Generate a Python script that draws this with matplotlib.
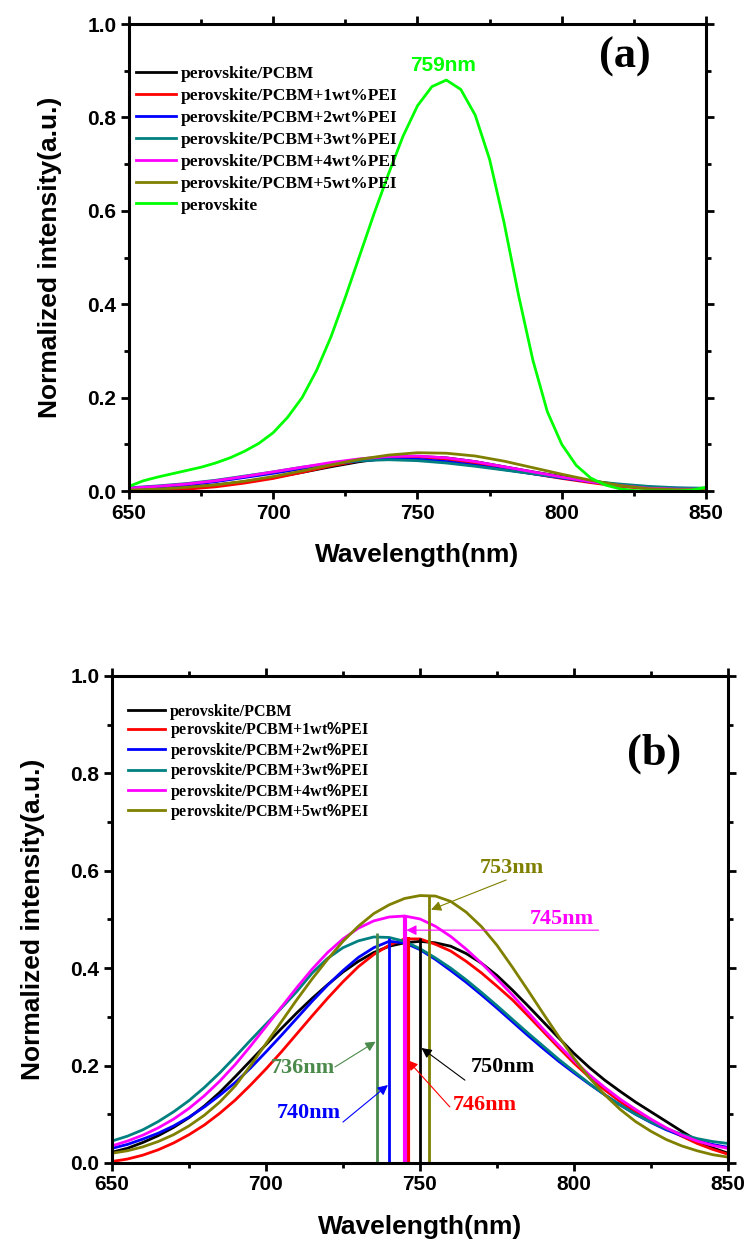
import matplotlib
matplotlib.use('Agg')
import matplotlib.pyplot as plt
from matplotlib.ticker import MultipleLocator

plt.rcParams['mathtext.fontset'] = 'custom'
plt.rcParams['mathtext.bf'] = 'Liberation Sans:bold'

# ---- data ----
labels = ['perovskite/PCBM', 'perovskite/PCBM+1wt%PEI', 'perovskite/PCBM+2wt%PEI',
          'perovskite/PCBM+3wt%PEI', 'perovskite/PCBM+4wt%PEI', 'perovskite/PCBM+5wt%PEI']
colors = ['#000000', '#ff0000', '#0000ff', '#008080', '#ff00ff', '#808000']

# panel (a): 10 nm grid for the quenched films, 5 nm grid for bare perovskite
wl_a = list(range(650, 851, 10))
a_black = [0.003, 0.005, 0.008, 0.013, 0.020, 0.029, 0.040, 0.052, 0.063, 0.071, 0.074,
           0.071, 0.063, 0.052, 0.041, 0.031, 0.022, 0.013, 0.006, 0.003, 0.003]
a_red = [0.000, 0.001, 0.004, 0.009, 0.017, 0.027, 0.040, 0.054, 0.065, 0.072, 0.073,
         0.068, 0.059, 0.048, 0.037, 0.027, 0.018, 0.010, 0.005, 0.003, 0.003]
a_blue = [0.004, 0.008, 0.013, 0.020, 0.029, 0.038, 0.048, 0.058, 0.065, 0.069, 0.068,
          0.063, 0.055, 0.046, 0.037, 0.028, 0.020, 0.013, 0.008, 0.006, 0.005]
a_teal = [0.007, 0.011, 0.016, 0.023, 0.032, 0.041, 0.051, 0.059, 0.065, 0.067, 0.065,
          0.060, 0.053, 0.045, 0.037, 0.029, 0.021, 0.015, 0.010, 0.007, 0.006]
a_magenta = [0.006, 0.010, 0.015, 0.022, 0.031, 0.041, 0.051, 0.061, 0.069, 0.074, 0.075,
             0.071, 0.063, 0.052, 0.041, 0.030, 0.020, 0.012, 0.006, 0.004, 0.004]
a_olive = [0.002, 0.004, 0.008, 0.013, 0.021, 0.031, 0.043, 0.056, 0.068, 0.077, 0.082,
           0.081, 0.075, 0.064, 0.050, 0.036, 0.023, 0.012, 0.005, 0.003, 0.003]

wl_g = list(range(650, 851, 5))
a_green = [0.010, 0.022, 0.030, 0.037, 0.044, 0.051, 0.060, 0.071, 0.085, 0.102,
           0.125, 0.158, 0.200, 0.258, 0.330, 0.415, 0.505, 0.595, 0.680, 0.760,
           0.825, 0.866, 0.880, 0.860, 0.805, 0.710, 0.575, 0.420, 0.280, 0.170,
           0.100, 0.055, 0.028, 0.013, 0.005, 0.001, 0.000, 0.000, 0.000, 0.002, 0.008]

# panel (b): 5 nm grid
wl_b = list(range(650, 851, 5))
b_black = [0.022, 0.030, 0.042, 0.056, 0.073, 0.093, 0.117, 0.145, 0.177, 0.210,
           0.243, 0.276, 0.308, 0.338, 0.366, 0.392, 0.414, 0.432, 0.445, 0.452,
           0.455, 0.452, 0.445, 0.430, 0.410, 0.385, 0.355, 0.323, 0.290, 0.257,
           0.225, 0.196, 0.170, 0.147, 0.125, 0.105, 0.085, 0.065, 0.046, 0.031, 0.020]
b_red = [0.003, 0.008, 0.016, 0.027, 0.041, 0.058, 0.078, 0.102, 0.129, 0.160,
         0.193, 0.228, 0.265, 0.302, 0.338, 0.372, 0.403, 0.428, 0.447, 0.460,
         0.460, 0.449, 0.435, 0.414, 0.390, 0.363, 0.335, 0.303, 0.270, 0.237,
         0.205, 0.176, 0.150, 0.126, 0.105, 0.087, 0.070, 0.055, 0.040, 0.028, 0.018]
b_blue = [0.030, 0.038, 0.049, 0.061, 0.076, 0.094, 0.115, 0.139, 0.165, 0.195,
          0.228, 0.262, 0.297, 0.332, 0.365, 0.395, 0.422, 0.442, 0.455, 0.452,
          0.438, 0.418, 0.395, 0.371, 0.345, 0.318, 0.290, 0.262, 0.235, 0.209,
          0.185, 0.162, 0.140, 0.119, 0.100, 0.083, 0.068, 0.056, 0.046, 0.038, 0.032]
b_teal = [0.045, 0.055, 0.068, 0.085, 0.105, 0.128, 0.155, 0.185, 0.218, 0.252,
          0.285, 0.318, 0.352, 0.390, 0.420, 0.442, 0.456, 0.464, 0.463, 0.455,
          0.440, 0.421, 0.400, 0.376, 0.350, 0.323, 0.295, 0.267, 0.240, 0.213,
          0.188, 0.163, 0.140, 0.119, 0.100, 0.084, 0.070, 0.059, 0.050, 0.044, 0.040]
b_magenta = [0.035, 0.045, 0.057, 0.072, 0.090, 0.112, 0.138, 0.168, 0.202, 0.240,
             0.280, 0.320, 0.360, 0.398, 0.432, 0.460, 0.482, 0.497, 0.505, 0.507,
             0.501, 0.486, 0.465, 0.439, 0.410, 0.378, 0.345, 0.310, 0.275, 0.242,
             0.210, 0.181, 0.155, 0.131, 0.110, 0.090, 0.072, 0.057, 0.045, 0.036, 0.030]
b_olive = [0.020, 0.025, 0.033, 0.044, 0.058, 0.076, 0.098, 0.125, 0.158, 0.200,
           0.245, 0.290, 0.335, 0.378, 0.418, 0.455, 0.486, 0.512, 0.530, 0.543,
           0.549, 0.548, 0.537, 0.515, 0.485, 0.447, 0.402, 0.355, 0.307, 0.260,
           0.215, 0.175, 0.140, 0.110, 0.085, 0.065, 0.048, 0.035, 0.025, 0.017, 0.012]

# peak markers in panel (b)
peak_nm = [750, 746, 740, 736, 745, 753]
peak_top = [0.462, 0.463, 0.462, 0.472, 0.508, 0.550]
peak_colors = ['#000000', '#ff0000', '#0000ff', '#4a8a4a', '#ff00ff', '#808000']
peak_lw = [2.0, 3.0, 2.0, 2.0, 3.0, 2.0]
# label text position, arrow tail, arrow head
peak_text = [(777, 0.197), (771, 0.119), (714, 0.103), (712, 0.195), (796, 0.501), (780, 0.605)]
peak_tail = [(764.6, 0.170), (759.7, 0.115), (725, 0.084), (722.4, 0.197), (808, 0.478), (778, 0.581)]
peak_head = [(750.5, 0.236), (746.0, 0.211), (739.6, 0.160), (735.6, 0.249), (745.6, 0.478), (753.6, 0.520)]

sans = ['Liberation Sans', 'DejaVu Sans']
serif = ['Liberation Serif', 'DejaVu Serif']

fig = plt.figure(figsize=(7.46, 12.45), dpi=100)
ax_a = fig.add_axes([0.1729, 0.6056, 0.7735, 0.3751])
ax_b = fig.add_axes([0.1501, 0.0659, 0.8257, 0.3912])


def style_axes(ax):
    ax.set_xlim(650, 850)
    ax.set_ylim(0, 1.0)
    ax.xaxis.set_major_locator(MultipleLocator(50))
    ax.xaxis.set_minor_locator(MultipleLocator(25))
    ax.yaxis.set_major_locator(MultipleLocator(0.2))
    ax.yaxis.set_minor_locator(MultipleLocator(0.1))
    ax.tick_params(which='both', direction='out', width=2.0, right=True,
                   labelright=False)
    ax.tick_params(which='major', length=6, labelsize=15, pad=3)
    ax.tick_params(which='minor', length=3.5)
    ax.tick_params(axis='x', which='both', top=True, labeltop=False)
    for sp in ax.spines.values():
        sp.set_linewidth(2.2)
    for lab in ax.get_xticklabels() + ax.get_yticklabels():
        lab.set_family(sans)
        lab.set_fontweight('bold')
    ax.set_xlabel('Wavelength(nm)', family=sans, fontweight='bold', fontsize=19, labelpad=15)
    ax.set_ylabel('Normalized intensity(a.u.)', family=sans, fontweight='bold', fontsize=19,
                  labelpad=18)


# ---- panel (a) ----
series_a = [a_black, a_red, a_blue, a_teal, a_magenta, a_olive]
for vals, c, lab in zip(series_a, colors, labels):
    ax_a.plot(wl_a, vals, color=c, lw=2.0, label=lab)
ax_a.plot(wl_g, a_green, color='#00ff00', lw=2.0, label='perovskite')
style_axes(ax_a)
ax_a.text(759, 0.912, '759nm', color='#00ff00', family=sans, fontweight='bold',
          fontsize=15, ha='center', va='center')
ax_a.text(0.86, 0.93, '(a)', transform=ax_a.transAxes, family=serif, fontweight='bold',
          fontsize=32, ha='center', va='center')
ax_a.legend(loc='upper left', bbox_to_anchor=(0.012, 0.911), frameon=False,
            prop={'family': serif, 'weight': 'bold', 'size': 12.5},
            handlelength=2.3, handletextpad=0.3, labelspacing=0.335,
            borderaxespad=0, borderpad=0)

# ---- panel (b) ----
labels_b = [s.replace('%', r'$\mathbf{\%}$') for s in labels]
series_b = [b_black, b_red, b_blue, b_teal, b_magenta, b_olive]
for vals, c, lab in zip(series_b, colors, labels_b):
    ax_b.plot(wl_b, vals, color=c, lw=2.0, label=lab)
for nm, top, c, lw in zip(peak_nm, peak_top, peak_colors, peak_lw):
    ax_b.vlines(nm, 0, top, color=c, lw=lw)
for nm, c, txt, tail, head in zip(peak_nm, peak_colors, peak_text, peak_tail, peak_head):
    ax_b.annotate('', xy=head, xytext=tail,
                  arrowprops=dict(arrowstyle='-|>', color=c, lw=0.8, mutation_scale=15,
                                  shrinkA=0, shrinkB=0))
    ax_b.text(txt[0], txt[1], '%dnm' % nm, color=c, family=serif, fontweight='bold',
              fontsize=16, ha='center', va='center')
style_axes(ax_b)
ax_b.text(0.88, 0.84, '(b)', transform=ax_b.transAxes, family=serif, fontweight='bold',
          fontsize=32, ha='center', va='center')
ax_b.legend(loc='upper left', bbox_to_anchor=(0.026, 0.943), frameon=False,
            prop={'family': serif, 'weight': 'bold', 'size': 11.5},
            handlelength=2.3, handletextpad=0.3, labelspacing=0.03,
            borderaxespad=0, borderpad=0)

fig.savefig('out.png', dpi=100)
